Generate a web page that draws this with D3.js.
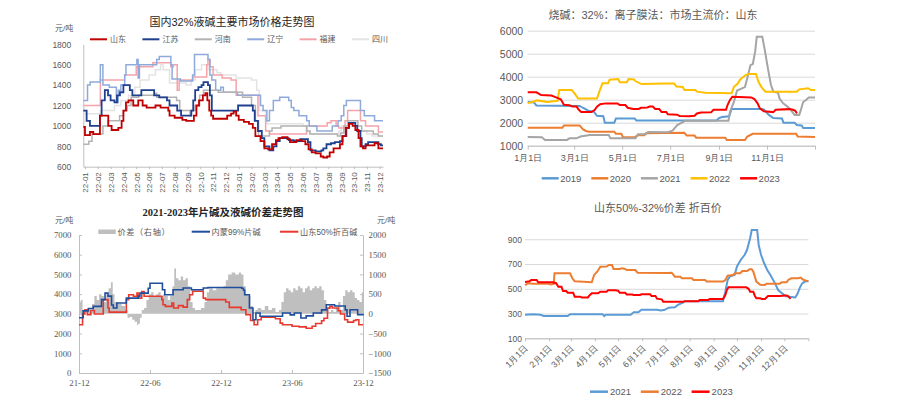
<!DOCTYPE html>
<html><head><meta charset="utf-8">
<script src="https://cdn.jsdelivr.net/npm/d3@7/dist/d3.min.js"></script>
<style>
body{margin:0;background:#fff;}
svg{display:block;font-family:"Liberation Sans","Noto Sans CJK SC",sans-serif;}
</style></head><body>
<svg id="c" width="911" height="405"></svg>
<script>
// ---------------- Chart 1 data (x = month index from 2022-01) ----------------
const c1Title = "国内32%液碱主要市场价格走势图";
const c1XLabels = ["22-01","22-02","22-03","22-04","22-05","22-06","22-07","22-08","22-09","22-10","22-11","22-12","23-01","23-02","23-03","23-04","23-05","23-06","23-07","23-08","23-09","23-10","23-11","23-12"];
const c1YTicks = [600,800,1000,1200,1400,1600,1800];
const c1Names = ["山东","江苏","河南","辽宁","福建","四川"];
const c1Shandong = [[-0.13,990],[0,910],[0.39,940],[0.65,920],[1.17,1100],[1.82,1000],[2.08,960],[2.6,980],[2.86,1050],[3.0,1150],[3.2,1230],[3.4,1250],[3.77,1200],[4.16,1250],[4.5,1200],[4.81,1180],[5.5,1200],[5.9,1180],[6.5,1150],[6.6,1100],[7.0,1080],[7.6,1060],[7.9,1050],[8.5,1100],[8.7,1200],[8.9,1250],[9.2,1300],[9.4,1320],[9.55,1250],[9.7,1150],[9.85,1100],[10.0,1070],[11.1,1100],[11.4,1120],[11.6,1140],[11.8,1100],[12.0,1060],[12.4,1040],[12.8,1020],[13.1,980],[13.3,900],[13.7,850],[14.0,780],[14.3,770],[14.6,820],[14.9,860],[15.1,880],[15.4,890],[15.8,870],[16.0,840],[16.5,860],[16.9,850],[17.2,820],[17.45,770],[17.7,740],[18.0,730],[18.4,700],[18.6,690],[18.9,700],[19.1,740],[19.4,780],[19.9,820],[20.1,900],[20.35,980],[20.6,1020],[20.9,1000],[21.1,960],[21.35,880],[21.5,800],[21.7,780],[21.9,810],[22.6,830],[22.9,780],[23.26,780]];
const c1Jiangsu = [[-0.13,1150],[0.13,1050],[0.39,1000],[1.17,1100],[1.3,1250],[1.55,1350],[1.8,1300],[2.0,1250],[2.3,1230],[2.5,1300],[2.73,1330],[3.0,1400],[3.5,1350],[3.7,1300],[4.4,1350],[5.4,1300],[5.8,1280],[6.4,1250],[6.6,1200],[7.2,1150],[7.5,1100],[8.3,1150],[8.45,1250],[8.6,1350],[8.85,1380],[9.1,1400],[9.25,1430],[9.6,1400],[9.75,1300],[9.9,1150],[11.95,1200],[13.1,1150],[13.25,1050],[13.5,950],[13.8,880],[14.0,800],[14.4,760],[14.7,800],[14.95,850],[15.2,880],[15.9,860],[16.3,850],[16.8,870],[17.4,840],[17.6,760],[18.0,750],[18.45,760],[18.6,780],[18.85,820],[19.2,830],[19.5,840],[19.9,850],[20.1,900],[20.4,980],[20.6,1030],[21.1,1000],[21.25,950],[21.5,880],[21.6,800],[21.9,820],[22.1,840],[22.9,820],[23.1,810],[23.26,810]];
const c1Henan = [[-0.13,820],[0.3,850],[0.55,920],[1.4,1000],[1.8,1050],[2.7,1100],[3.0,1150],[3.3,1200],[3.6,1280],[4.2,1300],[5.45,1320],[5.6,1280],[7.15,1250],[7.4,1150],[8.2,1100],[8.3,1150],[8.6,1200],[8.95,1300],[9.25,1350],[10.4,1330],[12.3,1280],[13.0,1200],[13.3,1050],[13.55,900],[14.4,950],[14.6,980],[15.3,1000],[17.3,950],[17.55,920],[19.7,900],[19.95,930],[20.2,1000],[20.5,1050],[21.3,1000],[21.6,950],[22.5,920],[22.9,900],[23.26,900]];
const c1Liaoning = [[-0.13,1250],[0.2,1400],[0.4,1430],[1.2,1600],[1.4,1400],[1.9,1380],[2.45,1230],[2.6,1350],[2.8,1400],[3.1,1500],[3.2,1600],[4.05,1650],[4.15,1470],[4.25,1600],[5.6,1650],[5.8,1680],[6.7,1600],[6.8,1460],[7.45,1440],[8.4,1500],[8.55,1700],[9.6,1650],[9.75,1500],[9.9,1450],[10.2,1350],[10.6,1380],[10.8,1330],[11.9,1300],[13.7,1200],[13.9,1150],[14.2,1050],[14.4,1150],[14.7,1250],[15.2,1280],[15.9,1250],[16.1,1180],[16.3,1150],[16.7,1100],[17.3,1050],[17.5,1000],[18.1,950],[19.3,1000],[19.75,1050],[20.0,1100],[20.2,1200],[20.4,1250],[21.5,1150],[21.8,1100],[22.6,1050],[23.26,1050]];
const c1Fujian = [[-0.13,1200],[1.2,1450],[3.1,1500],[4.0,1580],[5.3,1620],[6.7,1580],[6.9,1600],[7.2,1350],[7.35,1450],[8.4,1480],[9.5,1600],[9.6,1650],[9.75,1580],[10.0,1500],[10.7,1470],[11.4,1450],[11.8,1300],[13.5,1100],[14.1,950],[14.4,920],[17.3,1000],[18.9,1030],[19.2,1050],[19.6,1000],[19.8,980],[20.3,1050],[20.5,1150],[21.5,1050],[21.9,1000],[22.9,940],[23.26,940]];
const c1Sichuan = [[-0.13,1120],[1.2,1150],[2.3,1200],[2.8,1250],[3.4,1300],[3.9,1380],[4.3,1450],[5.0,1500],[5.5,1550],[5.9,1600],[6.1,1550],[6.6,1420],[7.9,1400],[8.3,1450],[8.6,1550],[9.1,1600],[9.6,1550],[10.3,1520],[10.6,1500],[11.8,1470],[13.0,1450],[13.4,1350],[13.6,1150],[14.1,1050],[14.2,1020],[17.0,1000],[17.3,950],[17.6,920],[19.8,950],[20.0,1000],[21.3,950],[22.0,920],[22.4,900],[23.26,900]];

// ---------------- Chart 2 data (x = month index from 2021-12) ----------------
const c2Title = "2021-2023年片碱及液碱价差走势图";
const c2XLabels = ["21-12","22-06","22-12","23-06","23-12"];
const c2XTickPos = [0,6,12,18,24];
const c2LeftTicks = [0,1000,2000,3000,4000,5000,6000,7000];
const c2RightTicks = [-1500,-1000,-500,0,500,1000,1500,2000];
const c2Names = ["价差（右轴）","内蒙99%片碱","山东50%折百碱"];
const c2Flake = [[0,2800],[0.35,3150],[0.8,3270],[1.2,3380],[1.9,3720],[2.2,4050],[2.45,3900],[2.75,3450],[2.9,3300],[3.2,3550],[4.0,3800],[5.0,3900],[5.15,4050],[5.85,4300],[6.0,4550],[6.9,4550],[7.05,4220],[7.25,3970],[7.95,4220],[8.8,4310],[9.5,4220],[10.5,4310],[10.9,4340],[13.75,4300],[13.9,4200],[14.0,3970],[14.4,3300],[14.7,2700],[14.95,3040],[15.3,2880],[17.2,3040],[17.85,2950],[18.2,3040],[18.75,2790],[19.2,2900],[19.8,3040],[20.5,3200],[20.9,3460],[21.6,3400],[22.5,3200],[22.65,2880],[22.9,3210],[23.55,2960],[24,3000]];
const c2Liquid = [[0,2450],[0.3,2990],[0.5,3210],[0.7,2960],[1.0,3170],[1.3,2990],[2.05,3720],[2.45,3300],[2.55,3090],[4.0,3720],[4.2,3970],[4.6,3890],[4.9,4050],[5.0,3800],[5.3,4130],[5.5,3890],[7.0,3720],[7.1,3460],[7.3,3380],[7.85,3550],[8.0,3300],[8.4,3420],[8.8,3340],[9.15,3720],[9.35,3970],[9.6,4150],[10.5,3800],[10.7,3720],[12.4,3600],[12.7,3330],[13.7,3210],[14.1,2960],[14.5,2660],[14.8,2450],[15.1,2700],[15.4,2830],[16.6,2750],[17.0,2530],[17.2,2450],[18.0,2370],[18.6,2340],[19.2,2270],[19.7,2370],[20.0,2510],[20.5,2650],[20.7,2780],[21.0,3290],[21.2,3380],[21.4,3300],[21.9,3160],[22.1,2990],[22.45,2700],[22.7,2580],[23.2,2660],[23.4,2700],[23.65,2450],[24,2450]];
const c2Spread = [[0,300],[0.15,350],[0.3,100],[0.5,0],[0.7,150],[0.9,50],[1.1,250],[1.3,450],[1.5,350],[1.7,500],[1.9,450],[2.1,300],[2.3,500],[2.5,650],[2.7,800],[2.85,500],[3.0,300],[3.3,250],[3.6,200],[3.9,100],[4.1,-100],[4.3,-80],[4.5,-150],[4.7,-200],[4.9,-280],[5.0,-250],[5.15,-100],[5.3,100],[5.5,150],[5.7,350],[5.9,500],[6.1,550],[6.3,450],[6.5,500],[6.7,550],[6.9,450],[7.1,500],[7.3,450],[7.5,350],[7.7,450],[7.9,700],[8.05,1150],[8.2,900],[8.4,850],[8.6,950],[8.8,850],[9.0,900],[9.2,700],[9.4,300],[9.6,150],[9.8,100],[10.1,100],[10.3,150],[10.6,300],[10.8,550],[11.0,650],[11.3,600],[11.6,650],[11.9,650],[12.2,700],[12.4,850],[12.6,1000],[12.9,1050],[13.2,1000],[13.5,1050],[13.7,1000],[13.9,700],[14.1,500],[14.3,450],[14.5,200],[14.7,50],[14.9,100],[15.1,150],[15.4,100],[15.7,200],[16.0,100],[16.3,150],[16.6,50],[16.9,100],[17.1,300],[17.3,550],[17.5,650],[17.7,600],[17.9,550],[18.1,650],[18.3,600],[18.5,700],[18.7,650],[18.9,550],[19.1,650],[19.3,700],[19.5,600],[19.7,650],[19.9,700],[20.1,650],[20.3,700],[20.5,600],[20.7,350],[20.9,100],[21.1,50],[21.3,100],[21.5,50],[21.7,150],[21.9,300],[22.1,100],[22.3,450],[22.5,600],[22.7,550],[22.9,600],[23.1,550],[23.3,400],[23.5,350],[23.7,300],[23.9,550],[24,550]];

// ---------------- Chart 3 data (x = day of year) ----------------
const c3Title = "烧碱：32%：离子膜法：市场主流价：山东";
const c3YTicks = [1000,2000,3000,4000,5000,6000];
const c3XTickDays = [0,59,120,181,243,304,365];
const c3XLabels = ["1月1日","3月1日","5月1日","7月1日","9月1日","11月1日",""];
const c3Names = ["2019","2020","2021","2022","2023"];
const c3Y2019 = [[0,2900],[8,2880],[11,2750],[66,2730],[70,2650],[77,2520],[84,2480],[88,2300],[96,2280],[98,2000],[110,2000],[112,2180],[136,2180],[138,2100],[240,2100],[243,2200],[247,2250],[256,2280],[259,2600],[295,2600],[300,2580],[306,2350],[312,2200],[323,2180],[325,2000],[339,2000],[342,1900],[348,1880],[350,1770],[365,1770]];
const c3Y2020 = [[0,1780],[44,1780],[46,1880],[66,1880],[70,1720],[74,1640],[78,1610],[110,1610],[112,1520],[119,1520],[121,1370],[136,1370],[140,1450],[148,1450],[150,1540],[199,1560],[202,1440],[212,1440],[214,1350],[251,1350],[253,1250],[276,1250],[279,1400],[286,1520],[341,1520],[343,1400],[365,1380]];
const c3Y2021 = [[0,1380],[18,1370],[22,1250],[50,1250],[53,1320],[62,1320],[67,1400],[79,1460],[103,1460],[105,1320],[137,1320],[140,1500],[150,1500],[153,1600],[178,1590],[184,1650],[190,1900],[196,2000],[200,2080],[255,2080],[257,2480],[262,2900],[266,3400],[276,3550],[280,4070],[283,4500],[286,4550],[289,5100],[291,5740],[298,5740],[301,5200],[303,4800],[306,4200],[309,3650],[312,3350],[318,3300],[320,3050],[324,2860],[330,2700],[335,2520],[339,2330],[345,2330],[347,2550],[350,2900],[354,3000],[357,3100],[365,3100]];
const c3Y2022 = [[0,2850],[6,2900],[12,2970],[25,2900],[38,2950],[40,3420],[56,3420],[60,3250],[64,3050],[88,3050],[91,3350],[95,3710],[102,3710],[104,3870],[115,3900],[117,3760],[126,3760],[128,3900],[135,3880],[137,3800],[145,3680],[176,3700],[186,3700],[189,3570],[197,3550],[199,3420],[213,3420],[215,3350],[226,3300],[259,3280],[262,3560],[267,3700],[270,3880],[276,4050],[280,4120],[290,4120],[293,3800],[296,3600],[298,3500],[302,3350],[342,3350],[345,3450],[356,3500],[360,3420],[365,3420]];
const c3Y2023 = [[0,3320],[11,3320],[14,3260],[17,3200],[30,3180],[36,3100],[42,3020],[46,2780],[53,2760],[57,2700],[62,2700],[65,2560],[68,2460],[81,2460],[85,2550],[88,2700],[92,2800],[99,2840],[114,2840],[117,2770],[124,2770],[127,2650],[134,2600],[141,2600],[144,2650],[152,2660],[155,2700],[159,2700],[162,2600],[167,2600],[170,2470],[176,2470],[178,2370],[190,2350],[193,2290],[205,2280],[212,2300],[215,2400],[220,2440],[233,2450],[236,2560],[252,2560],[254,2780],[257,2990],[260,3130],[268,3120],[284,3100],[288,3030],[292,2840],[295,2620],[300,2500],[312,2460],[315,2560],[333,2590],[337,2560],[340,2520],[342,2400]];

// ---------------- Chart 4 data (x = day of year) ----------------
const c4Title = "山东50%-32%价差 折百价";
const c4YTicks = [100,300,500,700,900];
const c4XTickDays = [0,31,59,90,120,151,181,212,243,273,304,334,365];
const c4XLabels = ["1月1日","2月1日","3月1日","4月1日","5月1日","6月1日","7月1日","8月1日","9月1日","10月1日","11月1日","12月1日",""];
const c4Names = ["2021","2022","2023"];
const c4Y2021 = [[0,290],[10,295],[20,290],[24,280],[55,280],[58,295],[100,295],[102,280],[104,290],[136,290],[140,310],[146,310],[150,330],[170,330],[175,325],[180,330],[185,347],[193,350],[197,370],[204,391],[206,400],[255,400],[258,477],[261,571],[264,600],[270,612],[273,680],[278,735],[283,775],[286,815],[290,910],[292,975],[299,975],[301,854],[304,775],[308,706],[312,652],[316,612],[322,544],[326,490],[331,464],[336,440],[348,430],[351,460],[354,510],[357,544],[361,560],[365,560]];
const c4Y2022 = [[0,530],[4,544],[10,540],[30,540],[33,535],[37,540],[38,625],[58,625],[61,585],[64,560],[86,553],[89,612],[93,638],[97,679],[105,680],[108,692],[112,692],[114,660],[122,660],[125,665],[129,660],[131,652],[142,652],[145,630],[184,627],[189,630],[193,598],[200,598],[202,585],[215,585],[217,571],[232,571],[234,558],[255,558],[258,571],[261,606],[268,612],[271,625],[277,625],[280,644],[286,644],[289,657],[292,657],[294,640],[296,598],[298,558],[303,533],[309,530],[311,541],[328,541],[331,553],[337,553],[339,571],[343,585],[352,585],[355,590],[358,575],[361,568],[365,560]];
const c4Y2023 = [[0,555],[6,560],[8,571],[15,571],[17,553],[36,553],[40,545],[43,517],[47,517],[49,482],[53,482],[55,468],[62,468],[64,436],[71,436],[73,430],[81,430],[83,446],[86,464],[94,464],[97,477],[105,477],[107,488],[116,488],[120,485],[122,468],[129,468],[131,454],[138,454],[140,450],[148,450],[150,455],[161,455],[163,442],[168,442],[170,420],[176,415],[178,396],[204,396],[206,400],[223,400],[225,410],[236,410],[238,418],[255,418],[258,450],[260,490],[262,512],[285,512],[288,500],[290,477],[294,477],[296,444],[298,423],[303,423],[305,418],[309,418],[311,430],[313,442],[328,442],[335,445],[337,446],[339,440],[342,418]];

// =====================================================================
const svg = d3.select("#c");
const LBL = "#595959";
function styleAxis(a, color, fs){
  a.select(".domain").attr("stroke", color);
  a.selectAll(".tick line").attr("stroke", color);
  a.selectAll("text").attr("fill", LBL).style("font-size", fs + "px");
}

// ---------------- Chart 1 ----------------
(function(){
  const g = svg.append("g");
  const x = d3.scaleLinear().domain([-0.13, 23.26]).range([83.3, 383]);
  const y = d3.scaleLinear().domain([600, 1800]).range([166.7, 44.3]);
  const colors = ["#c00000","#1f3f8f","#b3b3b3","#8eaadb","#f4a3ab","#e3e3e3"];
  const series = [c1Shandong, c1Jiangsu, c1Henan, c1Liaoning, c1Fujian, c1Sichuan];
  const widths = [1.8,1.8,1.5,1.5,1.5,1.5];

  const ya = g.append("g").attr("transform","translate(83.3,0)")
    .call(d3.axisLeft(y).tickValues(c1YTicks).tickSize(0).tickPadding(12).tickFormat(d3.format("d")));
  styleAxis(ya, "#bfbfbf", 8.5);
  const xa = g.append("g").attr("transform","translate(0,166.7)")
    .call(d3.axisBottom(x).tickValues(d3.range(24)).tickSizeInner(2.5).tickSizeOuter(0).tickFormat(i => c1XLabels[i]));
  styleAxis(xa, "#bfbfbf", 8);
  xa.selectAll("text").attr("transform","rotate(-90)").attr("x",-5.5).attr("y",0).attr("dy","0.35em").style("text-anchor","end");

  const line = d3.line().x(d => x(d[0])).y(d => y(d[1])).curve(d3.curveStepAfter);
  for (let i = series.length - 1; i >= 0; i--) {
    g.append("path").datum(series[i]).attr("fill","none").attr("stroke",colors[i])
      .attr("stroke-width",widths[i]).attr("d",line);
  }
  g.append("text").attr("x",232).attr("y",25.5).attr("text-anchor","middle")
    .style("font-size","11px").attr("fill","#262626").text(c1Title);
  g.append("text").attr("x",55).attr("y",31).style("font-size","8px").attr("fill",LBL).text("元/吨");
  c1Names.forEach((n,i) => {
    const lx = 90 + i*52.4;
    g.append("line").attr("x1",lx).attr("x2",lx+17).attr("y1",39.3).attr("y2",39.3)
      .attr("stroke",colors[i]).attr("stroke-width",2);
    g.append("text").attr("x",lx+20).attr("y",42.2).style("font-size","8px").attr("fill",LBL).text(n);
  });
})();

// ---------------- Chart 2 ----------------
(function(){
  const g = svg.append("g");
  const serif = '"Liberation Serif","Noto Sans CJK SC",serif';
  const x = d3.scaleLinear().domain([0, 24]).range([79, 363]);
  const yL = d3.scaleLinear().domain([0, 7000]).range([373, 235]);
  const yR = d3.scaleLinear().domain([-1500, 2000]).range([373, 235]);

  const area = d3.area().x(d => x(d[0])).y0(yR(0)).y1(d => yR(d[1])).curve(d3.curveStepAfter);
  g.append("path").datum(c2Spread).attr("fill","#bfbfbf").attr("d",area);

  const la = g.append("g").attr("transform","translate(79,0)")
    .call(d3.axisLeft(yL).tickValues(c2LeftTicks).tickSizeInner(-3).tickSizeOuter(0).tickPadding(7.5).tickFormat(d3.format("d")));
  styleAxis(la, "#bfbfbf", 8.8);
  const ra = g.append("g").attr("transform","translate(363,0)")
    .call(d3.axisRight(yR).tickValues(c2RightTicks).tickSizeInner(-3).tickSizeOuter(0).tickPadding(5.5).tickFormat(d3.format("d")));
  styleAxis(ra, "#bfbfbf", 8.8);
  const xa = g.append("g").attr("transform","translate(0,373)")
    .call(d3.axisBottom(x).tickValues(c2XTickPos).tickSizeInner(-3).tickSizeOuter(0).tickPadding(7).tickFormat((d,i) => c2XLabels[i]));
  styleAxis(xa, "#bfbfbf", 8.8);
  g.selectAll("text").style("font-family", serif);

  const line = d3.line().x(d => x(d[0])).y(d => yL(d[1])).curve(d3.curveStepAfter);
  g.append("path").datum(c2Liquid).attr("fill","none").attr("stroke","#e8392e").attr("stroke-width",1.6).attr("d",line);
  g.append("path").datum(c2Flake).attr("fill","none").attr("stroke","#1f4e9c").attr("stroke-width",1.6).attr("d",line);

  g.append("text").attr("x",223).attr("y",215.5).attr("text-anchor","middle")
    .style("font-size","10.5px").style("font-weight","bold").style("font-family",serif).attr("fill","#262626").text(c2Title);
  g.append("text").attr("x",55).attr("y",223).style("font-size","8px").attr("fill",LBL).text("元/吨");
  g.append("text").attr("x",377).attr("y",223).style("font-size","8px").attr("fill",LBL).text("元/吨");
  // legend
  g.append("rect").attr("x",98.3).attr("y",229.5).attr("width",17.5).attr("height",4.5).attr("fill","#bfbfbf");
  g.append("text").attr("x",117.5).attr("y",234.8).style("font-size","8.2px").style("letter-spacing","0.6px").attr("fill",LBL).text(c2Names[0]);
  g.append("line").attr("x1",191.7).attr("x2",210).attr("y1",231.7).attr("y2",231.7).attr("stroke","#1f4e9c").attr("stroke-width",2);
  g.append("text").attr("x",211.5).attr("y",234.8).style("font-size","8.2px").attr("fill",LBL).text(c2Names[1]);
  g.append("line").attr("x1",280).attr("x2",298.3).attr("y1",231.7).attr("y2",231.7).attr("stroke","#e8392e").attr("stroke-width",2);
  g.append("text").attr("x",300).attr("y",234.8).style("font-size","8.2px").attr("fill",LBL).text(c2Names[2]);
})();

// ---------------- Chart 3 ----------------
(function(){
  const g = svg.append("g");
  const x = d3.scaleLinear().domain([0, 365]).range([527.7, 815]);
  const y = d3.scaleLinear().domain([1000, 6000]).range([145.7, 30.7]);
  const colors = ["#5b9bd5","#ed7d31","#a5a5a5","#ffc000","#ff0000"];
  const series = [c3Y2019, c3Y2020, c3Y2021, c3Y2022, c3Y2023];

  const ya = g.append("g").attr("transform","translate(527.7,0)")
    .call(d3.axisLeft(y).tickValues(c3YTicks).tickSize(-(815-527.7)).tickPadding(4.5).tickFormat(d3.format("d")));
  ya.select(".domain").remove();
  ya.selectAll(".tick line").attr("stroke","#d9d9d9");
  ya.selectAll("text").attr("fill",LBL).style("font-size","10.5px");
  const xa = g.append("g").attr("transform","translate(0,145.7)")
    .call(d3.axisBottom(x).tickValues(c3XTickDays).tickSizeInner(4).tickSizeOuter(0).tickPadding(5).tickFormat((d,i) => c3XLabels[i]));
  styleAxis(xa, "#bfbfbf", 9);

  const line = d3.line().x(d => x(d[0])).y(d => y(d[1]));
  series.forEach((s,i) => {
    g.append("path").datum(s).attr("fill","none").attr("stroke",colors[i]).attr("stroke-width",2).attr("d",line);
  });
  g.append("text").attr("x",653).attr("y",19).attr("text-anchor","middle")
    .style("font-size","11px").attr("fill",LBL).text(c3Title);
  c3Names.forEach((n,i) => {
    const lx = 541.7 + i*49.6;
    g.append("line").attr("x1",lx).attr("x2",lx+17).attr("y1",178.3).attr("y2",178.3)
      .attr("stroke",colors[i]).attr("stroke-width",2.5);
    g.append("text").attr("x",lx+18.5).attr("y",181.8).style("font-size","9.5px").attr("fill",LBL).text(n);
  });
})();

// ---------------- Chart 4 ----------------
(function(){
  const g = svg.append("g");
  const x = d3.scaleLinear().domain([0, 365]).range([525, 808.4]);
  const y = d3.scaleLinear().domain([100, 1000]).range([338.3, 226.9]);
  const colors = ["#5b9bd5","#ed7d31","#ff0000"];
  const series = [c4Y2021, c4Y2022, c4Y2023];

  const ya = g.append("g").attr("transform","translate(525,0)")
    .call(d3.axisLeft(y).tickValues(c4YTicks).tickSize(-(808.4-525)).tickPadding(3).tickFormat(d3.format("d")));
  ya.select(".domain").remove();
  ya.selectAll(".tick line").attr("stroke","#d9d9d9");
  ya.selectAll("text").attr("fill",LBL).style("font-size","8.5px");
  const xa = g.append("g").attr("transform","translate(0,338.3)")
    .call(d3.axisBottom(x).tickValues(c4XTickDays).tickSizeInner(3).tickSizeOuter(0).tickFormat((d,i) => c4XLabels[i]));
  styleAxis(xa, "#bfbfbf", 8.8);
  xa.selectAll("text").attr("x",0).attr("y",0).attr("dy","0.35em")
    .attr("transform","translate(1,8) rotate(-45)").style("text-anchor","end");

  const line = d3.line().x(d => x(d[0])).y(d => y(d[1]));
  series.forEach((s,i) => {
    g.append("path").datum(s).attr("fill","none").attr("stroke",colors[i]).attr("stroke-width",2).attr("d",line);
  });
  g.append("text").attr("x",658).attr("y",212).attr("text-anchor","middle")
    .style("font-size","11px").attr("fill",LBL).text(c4Title);
  c4Names.forEach((n,i) => {
    const lx = 590 + i*50.8;
    g.append("line").attr("x1",lx).attr("x2",lx+18).attr("y1",391.7).attr("y2",391.7)
      .attr("stroke",colors[i]).attr("stroke-width",2.5);
    g.append("text").attr("x",lx+20).attr("y",395.2).style("font-size","9.5px").attr("fill",LBL).text(n);
  });
})();
</script>
</body></html>
